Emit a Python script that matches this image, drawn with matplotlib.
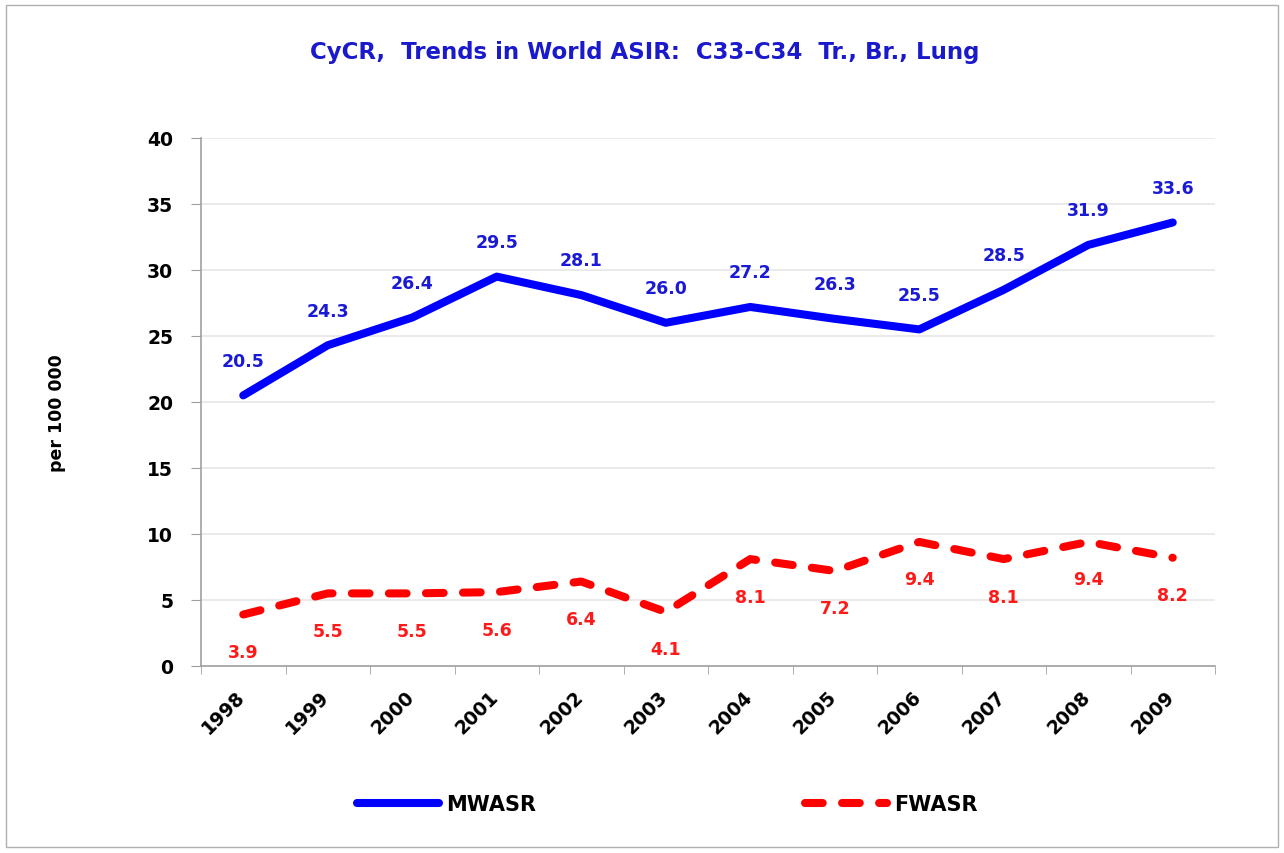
import matplotlib
matplotlib.use("Agg")
import matplotlib.pyplot as plt
import matplotlib.transforms as mtransforms
from matplotlib.patches import Rectangle

years = ["1998", "1999", "2000", "2001", "2002", "2003", "2004", "2005", "2006", "2007", "2008", "2009"]
mwasr = [20.5, 24.3, 26.4, 29.5, 28.1, 26.0, 27.2, 26.3, 25.5, 28.5, 31.9, 33.6]
fwasr = [3.9, 5.5, 5.5, 5.6, 6.4, 4.1, 8.1, 7.2, 9.4, 8.1, 9.4, 8.2]
yticks = [0, 5, 10, 15, 20, 25, 30, 35, 40]

plt.rcParams['font.family'] = ['DejaVu Sans']

fig = plt.figure(figsize=(12.84, 8.54), dpi=100)
fig.patches.append(Rectangle((6/1284, 6/854), 1 - 12/1284, 1 - 12/854, transform=fig.transFigure,
                             fill=False, edgecolor='#b0b0b0', linewidth=1.0))

ax = fig.add_axes([201/1284, 187/854, (1215-201)/1284, (667-139)/854])
x = list(range(len(years)))

ax.plot(x, mwasr, color='#0000ff', linewidth=5.8, solid_capstyle='round', solid_joinstyle='round', label='MWASR')
ax.plot(x, fwasr, color='#ff0000', linewidth=5.8, linestyle=(0, (2.2, 2.4)), dash_capstyle='round', label='FWASR')

for xi, v in zip(x, mwasr):
    ax.annotate(f"{v:.1f}", (xi, v), xytext=(0, 25), textcoords='offset points', ha='center', va='center',
                color='#1a1ad6', fontsize=12.5, fontweight='bold')
for xi, v in zip(x, fwasr):
    ax.annotate(f"{v:.1f}", (xi, v), xytext=(0, -27), textcoords='offset points', ha='center', va='center',
                color='#ff1a1a', fontsize=12.5, fontweight='bold')

ax.set_xlim(-0.5, len(years) - 0.5)
ax.set_ylim(0, 40)
ax.set_yticks(yticks)
ax.set_yticklabels([str(t) for t in yticks], fontsize=13.5, fontweight='bold')
ax.set_xticks(x)
ax.set_xticklabels(years, rotation=45, ha='right', rotation_mode='anchor', fontsize=13.5, fontweight='bold')
ax.set_xticks([i - 0.5 for i in range(len(years) + 1)], minor=True)
ax.tick_params(axis='x', which='major', length=0, pad=15)
ax.tick_params(axis='x', which='minor', length=6, color='#a0a0a0', direction='out')
ax.tick_params(axis='y', length=7, color='#a0a0a0', pad=13)

shift = mtransforms.ScaledTranslation(-8/100, 0, fig.dpi_scale_trans)
for lbl in ax.get_xticklabels():
    lbl.set_transform(lbl.get_transform() + shift)

ax.grid(axis='y', color='#e6e6e6', linewidth=1.2)
ax.set_axisbelow(True)
for s in ['top', 'right']:
    ax.spines[s].set_visible(False)
for s in ['left', 'bottom']:
    ax.spines[s].set_color('#a0a0a0')
    ax.spines[s].set_linewidth(1.2)

fig.text(57/1284, 1 - 413/854, 'per 100 000', rotation=90, ha='center', va='center',
         fontsize=12.5, fontweight='bold')
fig.text(645/1284, 1 - 52/854, 'CyCR,  Trends in World ASIR:  C33-C34  Tr., Br., Lung', ha='center', va='center',
         fontsize=16.5, fontweight='bold', color='#1a1acc')

handles, labels = ax.get_legend_handles_labels()
leg = fig.legend(handles, labels, loc='center', bbox_to_anchor=(667/1284, 1 - 805/854), ncol=2, frameon=False,
                 handlelength=3.95, handletextpad=0.33, columnspacing=12.9, prop={'size': 15, 'weight': 'bold'})

fig.savefig('out.png', dpi=100)
